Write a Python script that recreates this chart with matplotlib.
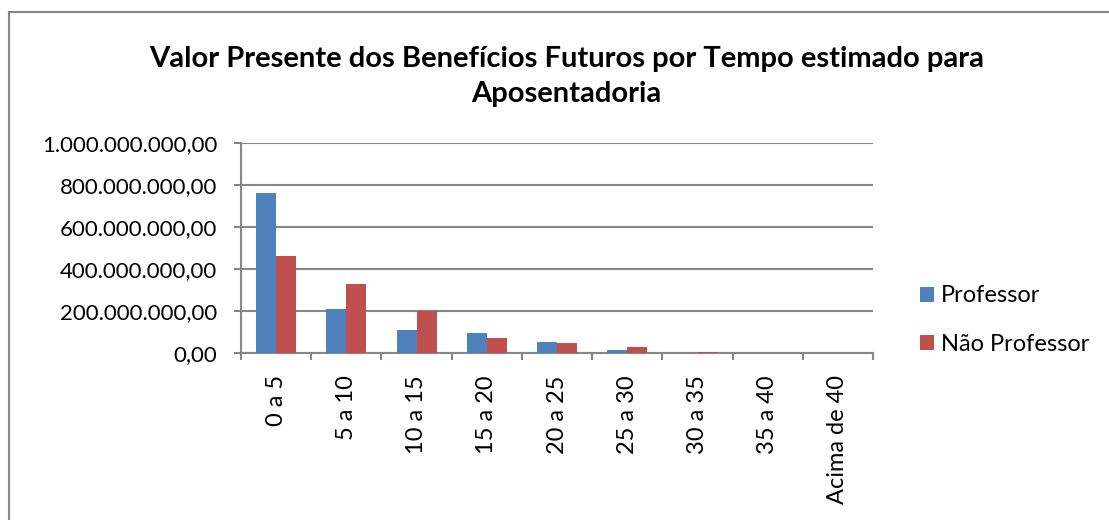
import matplotlib
matplotlib.use('Agg')
import matplotlib.pyplot as plt
from matplotlib.ticker import FuncFormatter
from matplotlib.lines import Line2D
import numpy as np

categories = ['0 a 5', '5 a 10', '10 a 15', '15 a 20', '20 a 25',
              '25 a 30', '30 a 35', '35 a 40', 'Acima de 40']
professor = [760e6, 208e6, 111e6, 94e6, 52e6, 12e6, 1e6, 0, 0]
nao_professor = [462e6, 327e6, 200e6, 70e6, 46e6, 27e6, 4e6, 0, 0]

plt.rcParams['font.family'] = ['Lato', 'DejaVu Sans']
grey = '#868686'

fig = plt.figure(figsize=(11.09, 5.20), dpi=100)
ax = fig.add_axes([0.2173, 0.3212, 0.570, 0.4038])

x = np.arange(len(categories)) + 0.5
w = 1 / 3.5
ax.bar(x - w / 2, professor, w, color='#4F81BD', label='Professor', zorder=3)
ax.bar(x + w / 2, nao_professor, w, color='#C0504D', label='Não Professor', zorder=3)

ax.set_xlim(0, len(categories))
ax.set_ylim(0, 1e9)
ax.set_yticks(np.arange(0, 1.01e9, 2e8))
ax.yaxis.set_major_formatter(FuncFormatter(
    lambda v, p: f'{v:,.2f}'.replace(',', '#').replace('.', ',').replace('#', '.')))
ax.grid(axis='y', color=grey, linewidth=1.5, zorder=0)

ax.set_xticks(np.arange(0, len(categories) + 1))
ax.set_xticklabels([])
ax.set_xticks(x, minor=True)
ax.set_xticklabels(categories, minor=True, rotation=90, fontsize=17, va='top')
ax.tick_params(axis='x', which='minor', length=0, pad=16)
ax.tick_params(axis='x', which='major', length=5, width=1.5, color=grey)
ax.tick_params(axis='y', length=5, width=1.5, color=grey, labelsize=16, pad=12)

for s in ['top', 'right']:
    ax.spines[s].set_visible(False)
for s in ['left', 'bottom']:
    ax.spines[s].set_color(grey)
    ax.spines[s].set_linewidth(1.5)

fig.text(0.511, 0.853, 'Valor Presente dos Benefícios Futuros por Tempo estimado para\nAposentadoria',
         ha='center', va='center', fontsize=21, fontweight='bold', linespacing=1.4)

ax.legend(loc='center left', bbox_to_anchor=(1.055, 0.157), frameon=False,
          fontsize=17, handlelength=0.6, handleheight=0.6, handletextpad=0.3,
          labelspacing=1.15, borderpad=0)

# chart frame (left and top edges only visible)
fig.add_artist(Line2D([0.0085, 0.0085], [0, 0.977], color=grey, linewidth=1.5))
fig.add_artist(Line2D([0.0085, 1], [0.977, 0.977], color=grey, linewidth=1.5))

fig.savefig('out.png', dpi=100)
